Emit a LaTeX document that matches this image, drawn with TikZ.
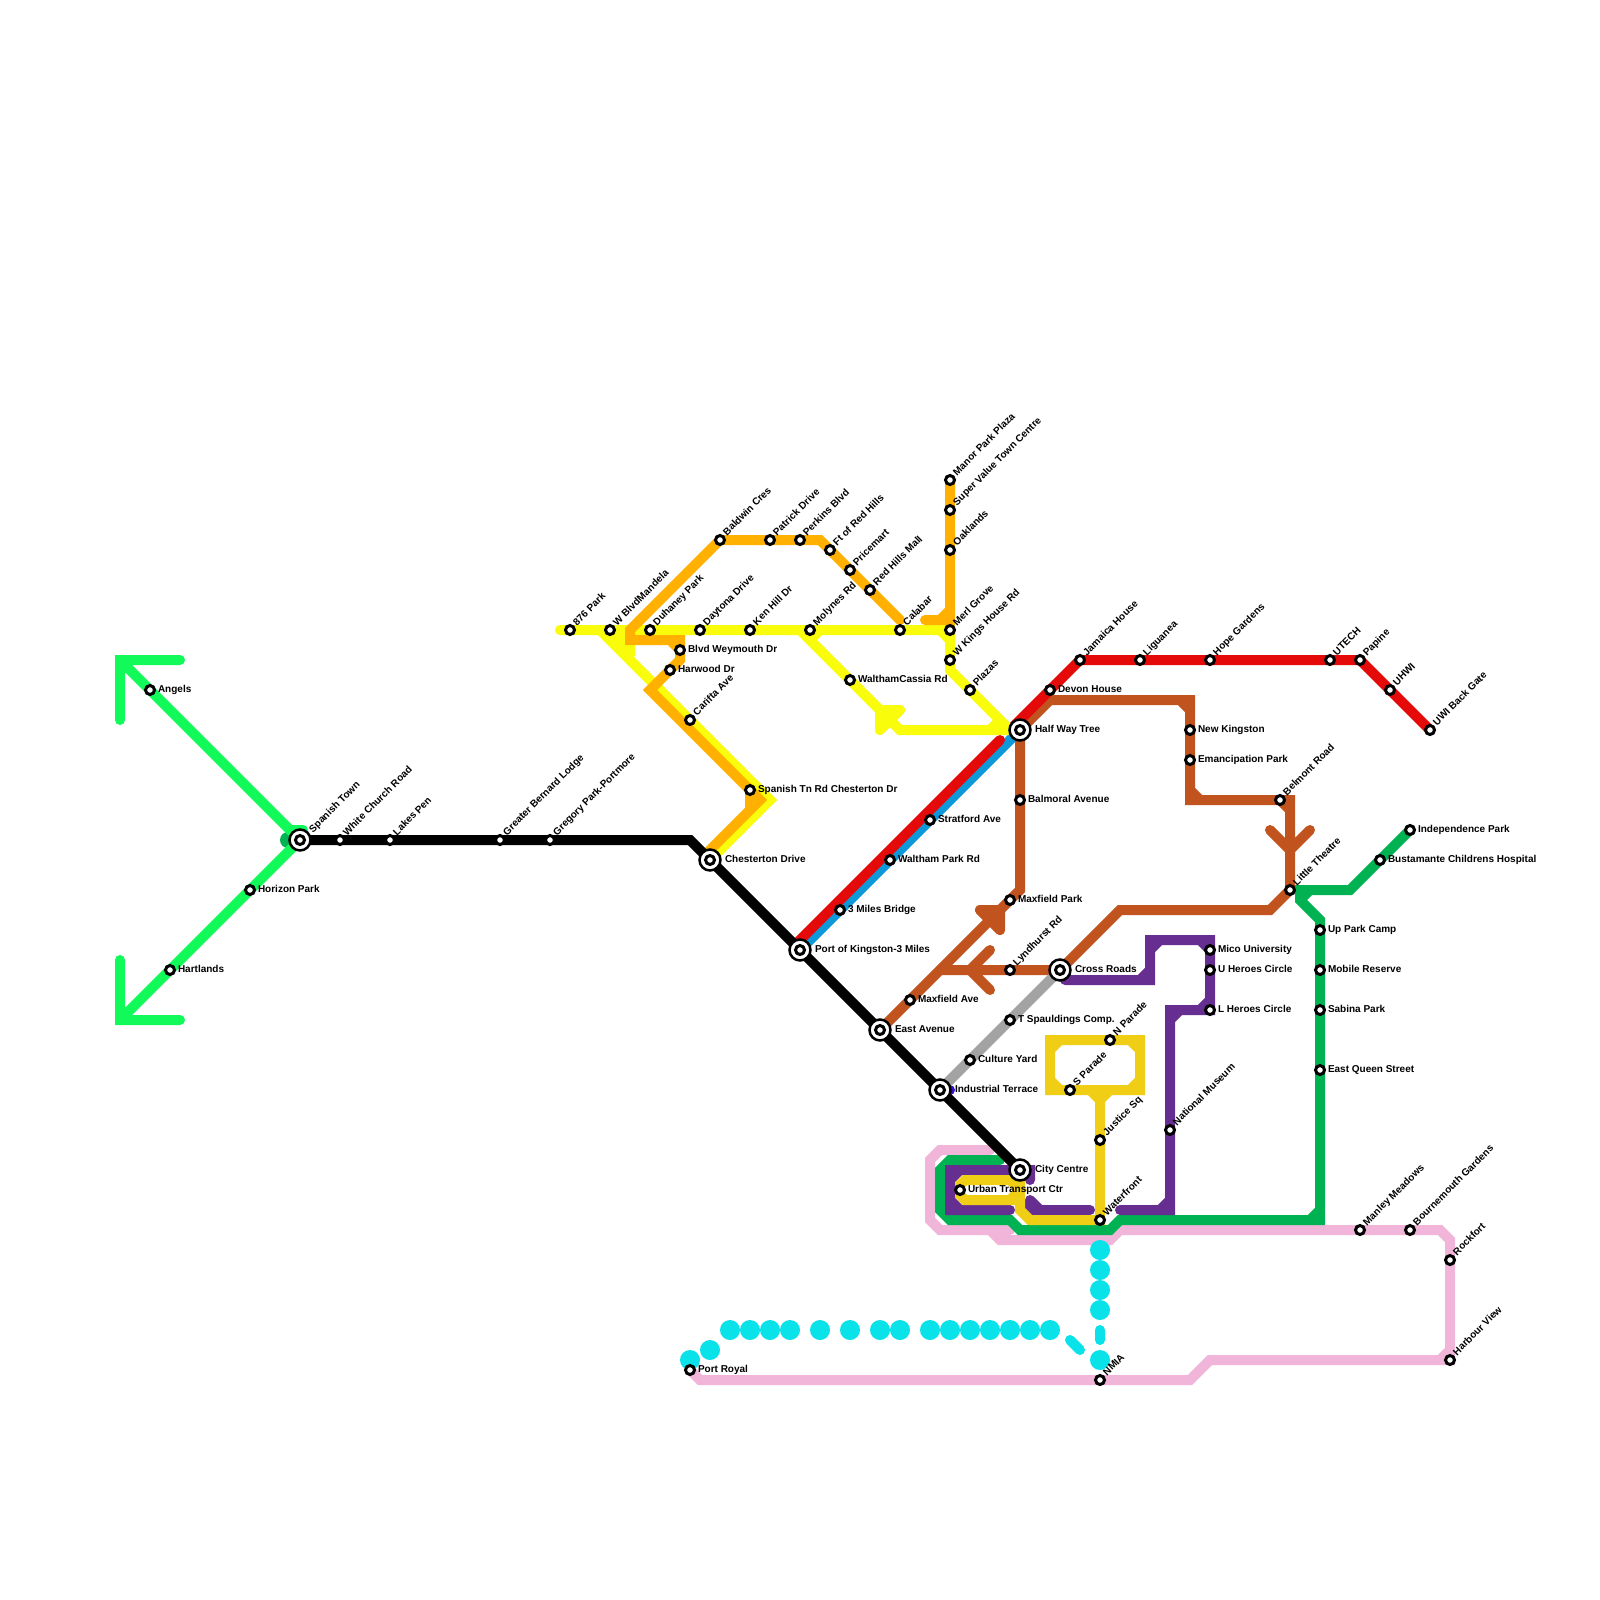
\documentclass[tikz,border=0pt]{standalone}
\usepackage{fontspec}
\setmainfont{Liberation Sans}
\pgfdeclarelayer{lines}
\pgfsetlayers{lines,main}
\definecolor{cLime}{HTML}{12FA5A}
\definecolor{cYellow}{HTML}{F9FC0A}
\definecolor{cOrange}{HTML}{FFB000}
\definecolor{cGold}{HTML}{F0CE15}
\definecolor{cGreen}{HTML}{00B251}
\definecolor{cPurple}{HTML}{662E91}
\definecolor{cBrown}{HTML}{C1531F}
\definecolor{cRed}{HTML}{E50A0A}
\definecolor{cBlue}{HTML}{0D98D9}
\definecolor{cPink}{HTML}{F0B5D9}
\definecolor{cCyan}{HTML}{08E2E8}
\definecolor{cGrey}{HTML}{A3A3A3}
\definecolor{cIndigo}{HTML}{3A10D0}
\tikzset{
  mline/.style={line width=10pt,line cap=round,line join=miter,miter limit=10},
  stn/.style={circle,draw=black,fill=white,line width=3pt,minimum size=9pt,inner sep=0pt,outer sep=0pt},
  hubring/.style={circle,draw=black,fill=white,line width=2.5pt,minimum size=21pt,inner sep=0pt,outer sep=0pt},
  lbl/.style={font=\fontsize{10}{12}\selectfont\bfseries,text=black,inner sep=0pt,outer sep=0pt,anchor=base west},
  lbld/.style={lbl,rotate=45},
  dot/.style={circle,fill=cCyan,minimum size=20pt,inner sep=0pt,outer sep=0pt}
}
\newcommand{\stH}[4]{\node[stn] (#1) at (#2,#3) {}; \path (#2,#3) ++(8,2.5) node[lbl] (#1-t) {#4};}
\newcommand{\stD}[4]{\node[stn] (#1) at (#2,#3) {}; \path (#2,#3) ++(7,-4) node[lbld] (#1-t) {#4};}
\newcommand{\hubH}[4]{\node[hubring] (#1-r) at (#2,#3) {}; \node[stn] (#1) at (#2,#3) {}; \path (#2,#3) ++(15,2.5) node[lbl] (#1-t) {#4};}
\begin{document}
\begin{tikzpicture}[x=1pt,y=-1pt]
\useasboundingbox (0,0) rectangle (1600,1600);
\hubH{st}{300}{840}{}
\path (300,840) ++(13,-7) node[lbld] (st-d) {Spanish Town};
\stD{wcr}{340}{840}{White Church Road}
\stD{lp}{390}{840}{Lakes Pen}
\stD{gbl}{500}{840}{Greater Bernard Lodge}
\stD{gpp}{550}{840}{Gregory Park-Portmore}
\stH{ang}{150}{690}{Angels}
\stH{hor}{250}{890}{Horizon Park}
\stH{har}{170}{970}{Hartlands}
\stD{p876}{570}{630}{876 Park}
\stD{wbm}{610}{630}{W BlvdMandela}
\stD{duh}{650}{630}{Duhaney Park}
\stD{day}{700}{630}{Daytona Drive}
\stD{ken}{750}{630}{Ken Hill Dr}
\stD{mol}{810}{630}{Molynes Rd}
\stD{cal}{900}{630}{Calabar}
\stD{mer}{950}{630}{Merl Grove}
\stD{wkh}{950}{660}{W Kings House Rd}
\stD{pla}{970}{690}{Plazas}
\stH{blv}{680}{650}{Blvd Weymouth Dr}
\stH{hrw}{670}{670}{Harwood Dr}
\stD{car}{690}{720}{Carifta Ave}
\stH{spc}{750}{790}{Spanish Tn Rd Chesterton Dr}
\stD{bal}{720}{540}{Baldwin Cres}
\stD{pat}{770}{540}{Patrick Drive}
\stD{per}{800}{540}{Perkins Blvd}
\stD{fto}{830}{550}{Ft of Red Hills}
\stD{pri}{850}{570}{Pricemart}
\stD{rhm}{870}{590}{Red Hills Mall}
\stD{man}{950}{480}{Manor Park Plaza}
\stD{sup}{950}{510}{Super Value Town Centre}
\stD{oak}{950}{550}{Oaklands}
\stH{wca}{850}{680}{WalthamCassia Rd}
\stH{str}{930}{820}{Stratford Ave}
\stH{wpr}{890}{860}{Waltham Park Rd}
\stH{bmv}{1020}{800}{Balmoral Avenue}
\stH{mxp}{1010}{900}{Maxfield Park}
\stH{tmb}{840}{910}{3 Miles Bridge}
\stH{mxa}{910}{1000}{Maxfield Ave}
\stD{lyn}{1010}{970}{Lyndhurst Rd}
\stH{tsp}{1010}{1020}{T Spauldings Comp.}
\stH{cul}{970}{1060}{Culture Yard}
\stH{utc}{960}{1190}{Urban Transport Ctr}
\stD{npa}{1110}{1040}{N Parade}
\stD{spa}{1070}{1090}{S Parade}
\stD{jus}{1100}{1140}{Justice Sq}
\stD{wat}{1100}{1220}{Waterfront}
\stD{nat}{1170}{1130}{National Museum}
\stH{lhc}{1210}{1010}{L Heroes Circle}
\stH{uhc}{1210}{970}{U Heroes Circle}
\stH{mic}{1210}{950}{Mico University}
\stH{dev}{1050}{690}{Devon House}
\stD{jam}{1080}{660}{Jamaica House}
\stD{lig}{1140}{660}{Liguanea}
\stD{hop}{1210}{660}{Hope Gardens}
\stD{ute}{1330}{660}{UTECH}
\stD{pap}{1360}{660}{Papine}
\stD{uhw}{1390}{690}{UHWI}
\stD{uwi}{1430}{730}{UWI Back Gate}
\stH{nkg}{1190}{730}{New Kingston}
\stH{ema}{1190}{760}{Emancipation Park}
\stD{bel}{1280}{800}{Belmont Road}
\stD{lit}{1290}{890}{Little Theatre}
\stH{ind}{1410}{830}{Independence Park}
\stH{bus}{1380}{860}{Bustamante Childrens Hospital}
\stH{upc}{1320}{930}{Up Park Camp}
\stH{mob}{1320}{970}{Mobile Reserve}
\stH{sab}{1320}{1010}{Sabina Park}
\stH{eqs}{1320}{1070}{East Queen Street}
\stD{mmd}{1360}{1230}{Manley Meadows}
\stD{bou}{1410}{1230}{Bournemouth Gardens}
\stD{roc}{1450}{1260}{Rockfort}
\stD{hbv}{1450}{1360}{Harbour View}
\stD{nmi}{1100}{1380}{NMIA}
\stH{pry}{690}{1370}{Port Royal}
\hubH{che}{710}{860}{Chesterton Drive}
\hubH{hwt}{1020}{730}{Half Way Tree}
\hubH{pok}{800}{950}{Port of Kingston-3 Miles}
\hubH{eav}{880}{1030}{East Avenue}
\hubH{crs}{1060}{970}{Cross Roads}
\hubH{itr}{940}{1090}{Industrial Terrace}
\hubH{cty}{1020}{1170}{City Centre}

\begin{pgfonlayer}{lines}
\fill[white] (0,0) rectangle (1600,1600);
\draw[mline,cPink] (pry.center)--(700,1380)--(nmi.center)--(1190,1380)--(1210,1360)--(hbv.center)--(roc.center)--(1450,1240)--(1440,1230)--(bou.center)--(mmd.center)--(1120,1230)--(1110,1240)--(1000,1240)--(990,1230)--(940,1230)--(930,1220)--(930,1160)--(940,1150)--(990,1150)
  (1440,1360)--(1450,1350) (990,1230)--(1010,1230);
\foreach \dx/\dy [count=\i] in {690/1360,710/1350,730/1330,750/1330,770/1330,790/1330,820/1330,850/1330,880/1330,900/1330,930/1330,950/1330,970/1330,990/1330,1010/1330,1030/1330,1050/1330,1100/1250,1100/1270,1100/1290,1100/1310,1100/1360}
  \node[dot] (d\i) at (\dx,\dy) {};
\coordinate (ca) at (1070,1340); \coordinate (cb) at (1080,1350);
\coordinate (cc) at (1100,1330); \coordinate (cd) at (1100,1340);
\draw[mline,cCyan] (ca)--(cb) (cc)--(cd);
\draw[mline,cGreen] (ind.center)--(bus.center)--(1350,890)--(1300,890)--(1300,900)--(1320,920)--(upc.center)--(mob.center)--(sab.center)--(eqs.center)--(1320,1220)--(1120,1220)--(1110,1230)--(1020,1230)--(1010,1220)--(950,1220)--(940,1210)--(940,1170)--(950,1160)--(1000,1160)
  (1310,890)--(1300,900) (1310,1220)--(1320,1210);
\fill[cGreen] (288,840) circle (8);
\draw[mline,cPurple] (1065,980)--(1150,980)--(1150,940)--(1210,940)--(mic.center)--(uhc.center)--(lhc.center)--(1170,1010)--(nat.center)--(1170,1210)--(1120,1210)
  (1140,980)--(1150,970) (1150,950)--(1160,940) (1200,940)--(1210,950) (1210,1000)--(1200,1010) (1180,1010)--(1170,1020) (1170,1200)--(1160,1210);
\draw[mline,cPurple] (1030,1180)--(1030,1170)--(950,1170)--(950,1210)--(1010,1210) (950,1180)--(960,1170) (950,1200)--(960,1210);
\draw[mline,cPurple] (1030,1200)--(1030,1210)--(1090,1210) (1030,1200)--(1040,1210);
\fill[cIndigo] (950,1090) circle (5);
\draw[mline,cGold] (1050,1040)--(npa.center)--(1140,1040)--(1140,1090)--(spa.center)--(1050,1090)--cycle
  (1060,1040)--(1050,1050) (1130,1040)--(1140,1050) (1140,1080)--(1130,1090) (1050,1080)--(1060,1090)
  (1090,1090)--(1100,1100)--(1110,1090);
\draw[mline,cGold] (1100,1090)--(jus.center)--(wat.center)--(1030,1220)--(1020,1210)--(1020,1180)--(965,1180)--(960,1185)--(960,1195)--(965,1200)--(1020,1200)
  (1010,1180)--(1020,1190)--(1010,1200);
\draw[mline,cBrown] (hwt.center)--(1050,700)--(1190,700)--(nkg.center)--(ema.center)--(1190,800)--(bel.center)--(1290,800)--(lit.center)--(1270,910)--(1120,910)--(crs.center)--(lyn.center)--(940,970)
  (1180,700)--(1190,710) (1190,790)--(1200,800) (1280,800)--(1290,810)
  (1270,830)--(1290,850)--(1310,830)
  (990,950)--(970,970)--(990,990);
\draw[mline,cBrown] (hwt.center)--(bmv.center)--(1020,890)--(mxp.center)--(mxa.center)--(eav.center);
\draw[mline,cBrown,line join=round,fill=cBrown] (980,910)--(1000,910)--(1000,930)--cycle;
\draw[mline,cBrown] (980,910)--(1000,910)--(1000,930);
\draw[mline,cGrey] (crs.center)--(tsp.center)--(cul.center)--(itr.center);
\draw[mline,cBlue] (pok.center)--(wpr.center)--(str.center)--(hwt.center);
\draw[mline,cRed] (pok.center)--(800,940)--(1000,740);
\draw[mline,cRed] (1010,730)--(dev.center)--(jam.center)--(lig.center)--(hop.center)--(ute.center)--(pap.center)--(uhw.center)--(uwi.center);
\draw[mline,cYellow] (560,630)--(wbm.center)--(duh.center)--(day.center)--(ken.center)--(mol.center)--(cal.center)--(mer.center)--(950,670)--(pla.center)--(1010,730)--(900,730)--(880,710)--(wca.center)--(800,630)
  (940,630)--(950,640) (990,730)--(1000,720);
\fill[cYellow] (808,634)--(823,634)--(815,642)--cycle;
\draw[mline,cYellow,line join=round,fill=cYellow] (880,730)--(880,710)--(900,710)--cycle;
\draw[mline,cYellow] (880,730)--(880,710)--(900,710);
\draw[mline,cYellow] (600,630)--(630,660)--(770,800)--(che.center);
\draw[mline,cYellow] (630,630)--(630,655);
\fill[cYellow] (600,630)--(630,630)--(630,660)--cycle;
\draw[mline,cOrange] (900,620)--(rhm.center)--(pri.center)--(fto.center)--(820,540)--(per.center)--(pat.center)--(bal.center)--(630,630)--(630,640)--(680,640)--(680,660)--(hrw.center)--(650,690)--(spc.center)--(760,800)--(710,850)--(che.center)
  (670,640)--(680,650) (750,790)--(750,810);
\draw[mline,cOrange] (man.center)--(sup.center)--(oak.center)--(950,620)--(925,620) (940,620)--(950,610);
\draw[mline,cLime] (120,720)--(120,660)--(180,660) (ang.center)--(125,665) (ang.center)--(300,840);
\draw[mline,cLime] (120,960)--(120,1020)--(180,1020) (125,1015)--(har.center)--(hor.center)--(300,840);
\draw[mline,cLime] (292,830)--(303,830);
\draw[mline,black] (st.center)--(wcr.center)--(lp.center)--(gbl.center)--(gpp.center)--(690,840)--(che.center)--(pok.center)--(eav.center)--(itr.center)--(cty.center);
\end{pgfonlayer}
\end{tikzpicture}
\end{document}
